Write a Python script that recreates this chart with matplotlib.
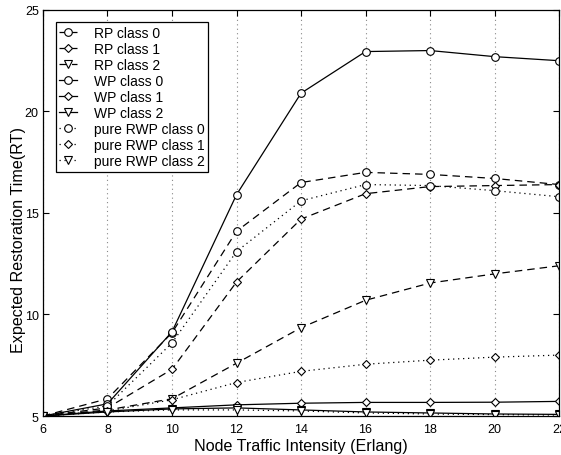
import matplotlib
matplotlib.use("Agg")
import matplotlib.pyplot as plt

x = [6, 8, 10, 12, 14, 16, 18, 20, 22]
rp0 = [5.0, 5.85, 9.1, 14.1, 16.5, 17.0, 16.9, 16.7, 16.4]
rp1 = [5.0, 5.4, 7.3, 11.6, 14.7, 15.95, 16.3, 16.35, 16.4]
rp2 = [5.0, 5.3, 5.85, 7.6, 9.35, 10.7, 11.55, 12.0, 12.4]
wp0 = [5.0, 5.6, 9.15, 15.9, 20.9, 22.95, 23.0, 22.7, 22.5]
wp1 = [5.0, 5.25, 5.4, 5.55, 5.63, 5.67, 5.67, 5.68, 5.72]
wp2 = [5.0, 5.2, 5.35, 5.4, 5.3, 5.2, 5.15, 5.1, 5.08]
rwp0 = [5.0, 5.5, 8.6, 13.1, 15.6, 16.4, 16.35, 16.1, 15.8]
rwp1 = [5.0, 5.25, 5.8, 6.65, 7.2, 7.55, 7.75, 7.9, 8.0]
rwp2 = [5.0, 5.2, 5.3, 5.3, 5.25, 5.15, 5.1, 5.07, 5.05]

labels = ["RP class 0", "RP class 1", "RP class 2",
          "WP class 0", "WP class 1", "WP class 2",
          "pure RWP class 0", "pure RWP class 1", "pure RWP class 2"]
xticks = [6, 8, 10, 12, 14, 16, 18, 20, 22]
yticks = [5, 10, 15, 20, 25]

plt.rcParams['font.family'] = ['Liberation Sans', 'DejaVu Sans']

fig = plt.figure(figsize=(5.61, 4.56), dpi=100)
ax = fig.add_axes([0.0766, 0.0855, 0.92, 0.8905])

series = [rp0, rp1, rp2, wp0, wp1, wp2, rwp0, rwp1, rwp2]
markers = ['o', 'D', 'v'] * 3
styles = [(0, (6, 4))] * 3 + ['-'] * 3 + [(0, (1, 3))] * 3
for ys, m, ls, lab in zip(series, markers, styles, labels):
    ms = 5.5 if m != 'D' else 4.5
    ax.plot(x, ys, linestyle=ls, color='black', linewidth=0.9,
            marker=m, markersize=ms, markerfacecolor='white',
            markeredgecolor='black', markeredgewidth=0.8, label=lab)

ax.set_xlim(6, 22)
ax.set_ylim(5, 25)
ax.set_xticks(xticks)
ax.set_yticks(yticks)
ax.tick_params(direction='in', top=True, right=True, labelsize=9, length=4, width=0.8)
ax.tick_params(axis='x', pad=5)
ax.tick_params(axis='y', pad=3)
ax.xaxis.grid(True, linestyle=(0, (1, 3)), color='#888888', linewidth=0.8)
for s in ax.spines.values():
    s.set_linewidth(0.9)

ax.set_xlabel("Node Traffic Intensity (Erlang)", fontsize=11.6, labelpad=2)
ax.set_ylabel("Expected Restoration Time(RT)", fontsize=11.6)
ax.yaxis.set_label_coords(-0.033, 0.436)

leg = ax.legend(loc='upper left', bbox_to_anchor=(0.025, 0.970), fontsize=10,
                frameon=True, fancybox=False, edgecolor='black', framealpha=1,
                handlelength=1.3, handletextpad=1.2, labelspacing=0.15,
                borderpad=0.25, borderaxespad=0)
leg.get_frame().set_linewidth(0.9)

fig.savefig("out.png", dpi=100)
